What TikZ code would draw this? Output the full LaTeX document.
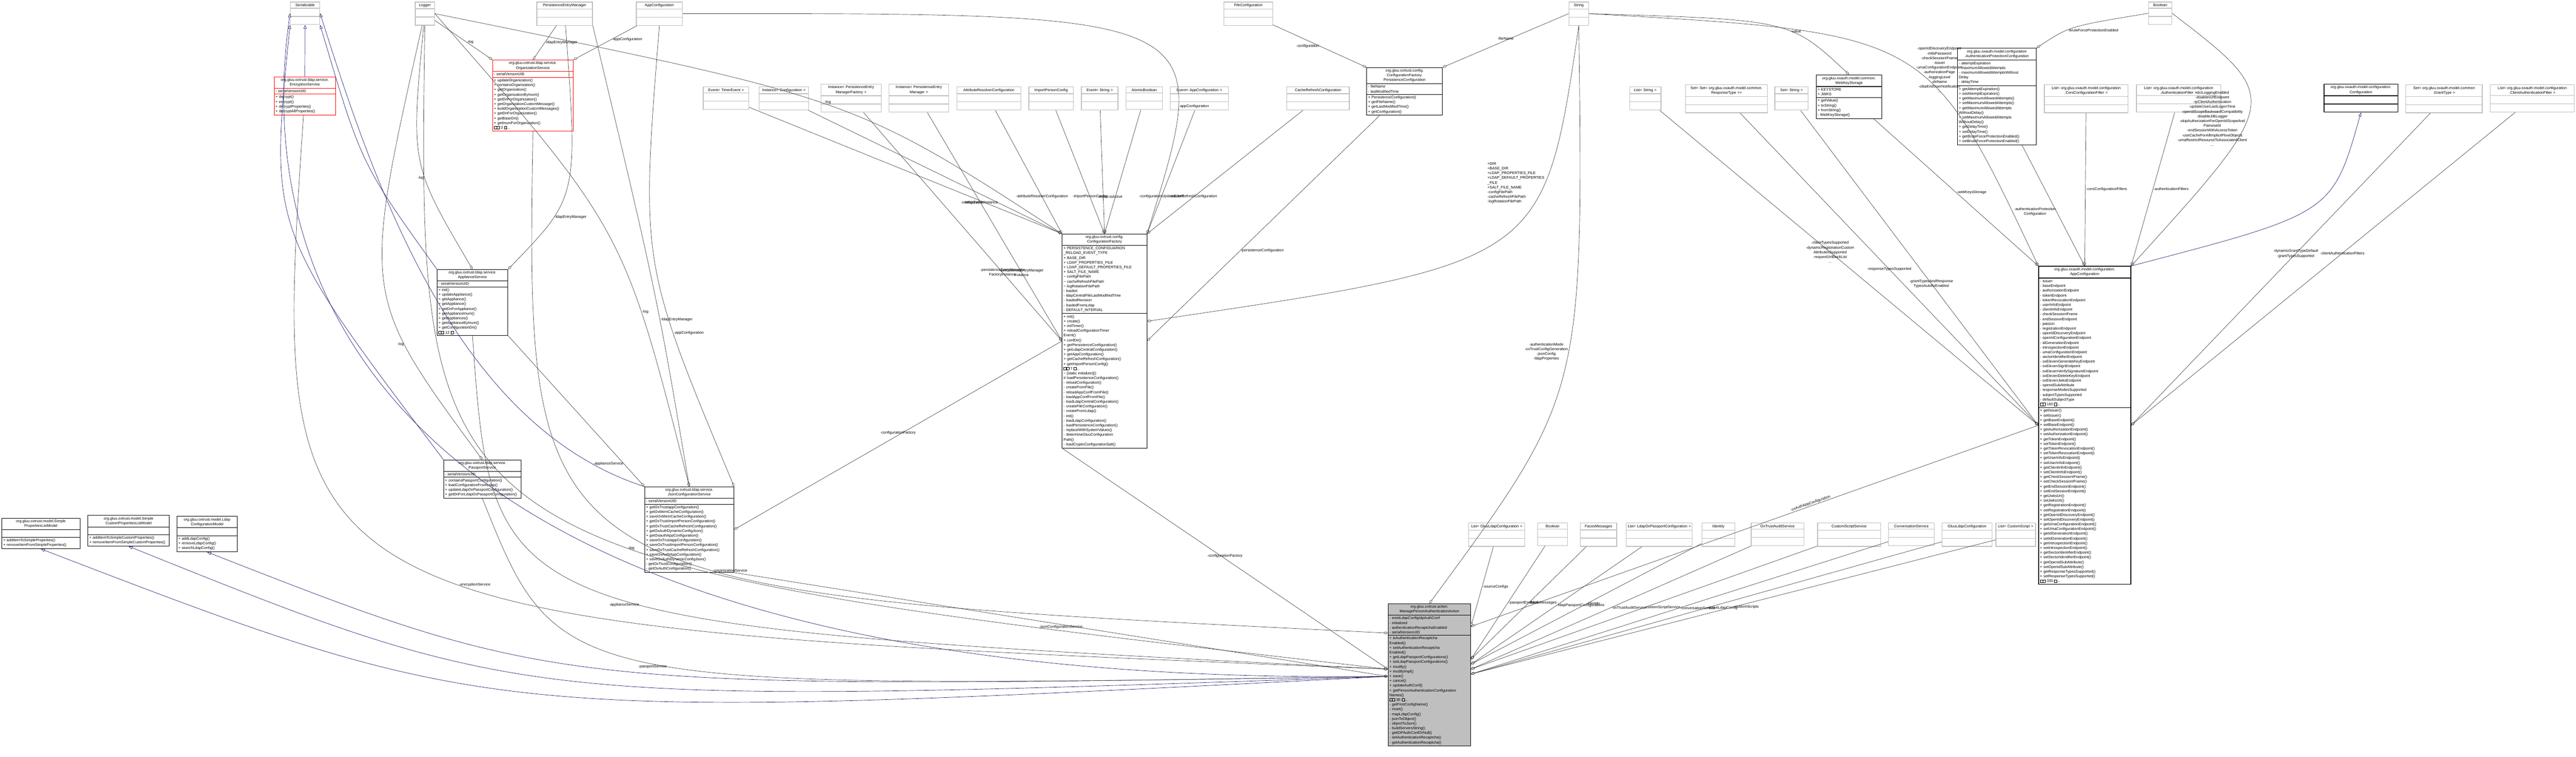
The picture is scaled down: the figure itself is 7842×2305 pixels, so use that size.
\documentclass[tikz,border=0pt]{standalone}
\usepackage{fontspec}
\setmainfont{Liberation Sans}
\usepackage{tikz}
\usetikzlibrary{shapes.multipart, arrows.meta, calc}
\definecolor{edgeGray}{HTML}{404040}
\definecolor{inhBlue}{HTML}{191970}
\definecolor{extGray}{HTML}{BFBFBF}
\definecolor{mainFill}{HTML}{BFBFBF}
\newcommand{\hb}{{\fboxsep=0pt\fboxrule=0.2pt\framebox[2.4pt]{\rule{0pt}{2.2pt}}}}
\tikzset{font=\fontsize{3.25}{4.1}\selectfont}
\tikzstyle{classbox} = [rectangle split, rectangle split parts=3, draw=black,%
line width=0.35pt, inner sep=1.2pt, align=left, anchor=north west]
\tikzstyle{redbox} = [classbox, draw=red]
\tikzstyle{mainbox} = [classbox, fill=mainFill]
\tikzstyle{extbox} = [rectangle split, rectangle split parts=3, draw=extGray,%
line width=0.6pt, inner sep=1.2pt, align=center, anchor=north west]
\tikzstyle{arrow} = [draw=edgeGray, line width=0.3pt, -{Diamond[open,length=0.14cm,width=0.08cm]}]
\tikzstyle{inherit} = [draw=inhBlue, line width=0.3pt, -{Triangle[open,length=0.12cm,width=0.09cm]}]
\tikzstyle{lbl} = [inner sep=0.5pt, align=center]
\newcommand{\extnode}[4]{\node[extbox, text width=#3] (#1) at (#2) {#4\nodepart{two}\strut\nodepart{three}\strut};}

\begin{document}
\begin{tikzpicture}[x=0.01cm, y=-0.01cm]
    \useasboundingbox (0,0) rectangle (7842,2305);

    % top row
    \extnode{ser}{883,5}{0.81cm}{Serializable}
    \extnode{logger}{1263,5}{0.50cm}{Logger}
    \extnode{pem}{1633,5}{1.61cm}{PersistenceEntryManager}
    \extnode{appconf}{1936,5}{1.32cm}{AppConfiguration}
    \extnode{fileconf}{3725,5}{1.40cm}{FileConfiguration}
    \extnode{string}{4775,5}{0.52cm}{String}
    \extnode{boolean}{6540,5}{0.62cm}{Boolean}

    % second row
    \extnode{timer}{2140,263}{1.30cm}{Event\textless{} TimerEvent \textgreater}
    \extnode{instconf}{2310,263}{1.42cm}{Instance\textless{} Configuration \textgreater}
    \extnode{instpemf}{2498,255}{1.75cm}{Instance\textless{} PersistenceEntry\\ManagerFactory \textgreater}
    \extnode{instpem}{2705,255}{1.74cm}{Instance\textless{} PersistenceEntry\\Manager \textgreater}
    \extnode{attres}{2912,263}{1.86cm}{AttributeResolverConfiguration}
    \extnode{imppers}{3131,263}{1.27cm}{ImportPersonConfig}
    \extnode{evstr}{3291,263}{1.03cm}{Event\textless{} String \textgreater}
    \extnode{atomic}{3427,263}{1.02cm}{AtomicBoolean}
    \extnode{evapp}{3562,263}{1.68cm}{Event\textless{} AppConfiguration \textgreater}
    \extnode{cacheref}{3916,263}{1.82cm}{CacheRefreshConfiguration}
    \extnode{liststr}{4960,263}{0.87cm}{List\textless{} String \textgreater}
    \extnode{setset}{5130,257}{2.41cm}{Set\textless{} Set\textless{} org.gluu.oxauth.model.common.\\ResponseType \textgreater{}\textgreater}
    \extnode{setstr}{5402,263}{0.93cm}{Set\textless{} String \textgreater}
    \extnode{corsf}{6222,257}{2.47cm}{List\textless{} org.gluu.oxauth.model.configuration\\.CorsConfigurationFilter \textgreater}
    \extnode{authf}{6503,257}{2.48cm}{List\textless{} org.gluu.oxauth.model.configuration\\.AuthenticationFilter \textgreater}
    \extnode{setgrant}{7323,257}{2.24cm}{Set\textless{} org.gluu.oxauth.model.common\\.GrantType \textgreater}
    \extnode{listclf}{7580,257}{2.47cm}{List\textless{} org.gluu.oxauth.model.configuration\\.ClientAuthenticationFilter \textgreater}

    \node (persconf) [classbox, text width=2.22cm] at (4160,205)
      {{\centering org.gluu.oxtrust.config.\\ConfigurationFactory.\\PersistenceConfiguration\par}
      \nodepart{two} - fileName\\- lastModifiedTime
      \nodepart{three} + PersistenceConfiguration()\\+ getFileName()\\+ getLastModifiedTime()\\+ getConfiguration()};
    \node (webkey) [classbox, line width=0.6pt, text width=1.91cm] at (5528,227)
      {{\centering org.gluu.oxauth.model.common.\\WebKeyStorage\par}
      \nodepart{two} + KEYSTORE\\+ JWKS
      \nodepart{three} + getValue()\\+ toString()\\+ fromString()\\- WebKeyStorage()};
    \node (authprot) [classbox, line width=0.6pt, text width=2.31cm] at (5958,146)
      {{\centering org.gluu.oxauth.model.configuration\\.AuthenticationProtectionConfiguration\par}
      \nodepart{two} - attemptExpiration\\- maximumAllowedAttempts\\- maximumAllowedAttemptsWithout\\Delay\\- delayTime
      \nodepart{three} + getAttemptExpiration()\\+ setAttemptExpiration()\\+ getMaximumAllowedAttempts()\\+ setMaximumAllowedAttempts()\\+ getMaximumAllowedAttempts\\WithoutDelay()\\+ setMaximumAllowedAttempts\\WithoutDelay()\\+ getDelayTime()\\+ setDelayTime()\\+ getBruteForceProtectionEnabled()\\+ setBruteForceProtectionEnabled()};
    \node (confint) [classbox, line width=0.6pt, text width=2.16cm] at (7074,255)
      {{\centering org.gluu.oxauth.model.configuration.\\Configuration\par}
      \nodepart{two}\strut \nodepart{three}\strut};
    \node (appcfg) [classbox, line width=0.6pt, text width=2.72cm] at (6205,810)
      {{\centering org.gluu.oxauth.model.configuration.\\AppConfiguration\par}
      \nodepart{two} - issuer\\- baseEndpoint\\- authorizationEndpoint\\- tokenEndpoint\\- tokenRevocationEndpoint\\- userInfoEndpoint\\- clientInfoEndpoint\\- checkSessionIFrame\\- endSessionEndpoint\\- jwksUri\\- registrationEndpoint\\- openIdDiscoveryEndpoint\\- openIdConfigurationEndpoint\\- idGenerationEndpoint\\- introspectionEndpoint\\- umaConfigurationEndpoint\\- sectorIdentifierEndpoint\\- oxElevenGenerateKeyEndpoint\\- oxElevenSignEndpoint\\- oxElevenVerifySignatureEndpoint\\- oxElevenDeleteKeyEndpoint\\- oxElevenJwksEndpoint\\- openidSubAttribute\\- responseModesSupported\\- subjectTypesSupported\\- defaultSubjectType\\\hb\hb~160~\hb...
      \nodepart{three} + getIssuer()\\+ setIssuer()\\+ getBaseEndpoint()\\+ setBaseEndpoint()\\+ getAuthorizationEndpoint()\\+ setAuthorizationEndpoint()\\+ getTokenEndpoint()\\+ setTokenEndpoint()\\+ getTokenRevocationEndpoint()\\+ setTokenRevocationEndpoint()\\+ getUserInfoEndpoint()\\+ setUserInfoEndpoint()\\+ getClientInfoEndpoint()\\+ setClientInfoEndpoint()\\+ getCheckSessionIFrame()\\+ setCheckSessionIFrame()\\+ getEndSessionEndpoint()\\+ setEndSessionEndpoint()\\+ getJwksUri()\\+ setJwksUri()\\+ getRegistrationEndpoint()\\+ setRegistrationEndpoint()\\+ getOpenIdDiscoveryEndpoint()\\+ setOpenIdDiscoveryEndpoint()\\+ getUmaConfigurationEndpoint()\\+ setUmaConfigurationEndpoint()\\+ getIdGenerationEndpoint()\\+ setIdGenerationEndpoint()\\+ getIntrospectionEndpoint()\\+ setIntrospectionEndpoint()\\+ getSectorIdentifierEndpoint()\\+ setSectorIdentifierEndpoint()\\+ getOpenidSubAttribute()\\+ setOpenidSubAttribute()\\+ getResponseTypesSupported()\\+ setResponseTypesSupported()\\\hb\hb~330~\hb...};

    % services
    \node (enc) [redbox, text width=1.78cm] at (834,233)
      {{\centering org.gluu.oxtrust.ldap.service.\\EncryptionService\par}
      \nodepart{two} - serialVersionUID
      \nodepart{three} + decrypt()\\+ encrypt()\\+ decryptProperties()\\+ decryptAllProperties()};
    \node (org) [redbox, text width=2.37cm] at (1499,182)
      {{\centering org.gluu.oxtrust.ldap.service.\\OrganizationService\par}
      \nodepart{two} - serialVersionUID
      \nodepart{three} + updateOrganization()\\+ containsOrganization()\\+ getOrganization()\\+ getOrganizationByInum()\\+ getDnForOrganization()\\+ getOrganizationCustomMessage()\\+ buildOrganizationCustomMessages()\\+ getDnForOrganization()\\+ getBaseDn()\\+ getInumForOrganization()\\\hb\hb~3~\hb...};
    \node (appl) [classbox, text width=2.07cm] at (1330,820)
      {{\centering org.gluu.oxtrust.ldap.service.\\ApplianceService\par}
      \nodepart{two} - serialVersionUID
      \nodepart{three} + init()\\+ updateAppliance()\\+ getAppliance()\\+ getAppliance()\\+ getDnForAppliance()\\+ getApplianceInum()\\+ getAppliances()\\+ getApplianceByInum()\\+ getConfigurationDn()\\\hb\hb~12~\hb...};
    \node (pass) [classbox, text width=2.27cm] at (1350,1400)
      {{\centering org.gluu.oxtrust.ldap.service.\\PassportService\par}
      \nodepart{two} - serialVersionUID
      \nodepart{three} + containsPassportConfiguration()\\+ loadConfigurationFromLdap()\\+ updateLdapOxPassportConfiguration()\\+ getDnForLdapOxPassportConfiguration()};
    \node (json) [classbox, text width=2.63cm] at (1962,1482)
      {{\centering org.gluu.oxtrust.ldap.service.\\JsonConfigurationService\par}
      \nodepart{two} - serialVersionUID
      \nodepart{three} + getOxTrustappConfiguration()\\+ getOxMemCacheConfiguration()\\+ saveOxMemCacheConfiguration()\\+ getOxTrustImportPersonConfiguration()\\+ getOxTrustCacheRefreshConfiguration()\\+ getOxAuthDynamicConfigJson()\\+ getOxauthAppConfiguration()\\+ saveOxTrustappConfiguration()\\+ saveOxTrustImportPersonConfiguration()\\+ saveOxTrustCacheRefreshConfiguration()\\+ saveOxAuthAppConfiguration()\\+ saveOxAuthDynamicConfigJson()\\- getOxTrustConfiguration()\\- getOxAuthConfiguration()};
    \node (cf) [classbox, text width=2.49cm] at (3233,712)
      {{\centering org.gluu.oxtrust.config.\\ConfigurationFactory\par}
      \nodepart{two} + PERSISTENCE\_CONFIGUARION\\\_RELOAD\_EVENT\_TYPE\\+ BASE\_DIR\\+ LDAP\_PROPERTIES\_FILE\\+ LDAP\_DEFAULT\_PROPERTIES\_FILE\\+ SALT\_FILE\_NAME\\\textasciitilde{} configFilePath\\\textasciitilde{} cacheRefreshFilePath\\\textasciitilde{} logRotationFilePath\\- loaded\\- ldapCentralFileLastModifiedTime\\- loadedRevision\\- loadedFromLdap\\- DEFAULT\_INTERVAL
      \nodepart{three} + init()\\+ create()\\+ initTimer()\\+ reloadConfigurationTimer\\Event()\\+ confDir()\\+ getPersistenceConfiguration()\\+ getLdapCentralConfiguration()\\+ getAppConfiguration()\\+ getCacheRefreshConfiguration()\\+ getImportPersonConfig()\\\hb\hb~7~\hb...\\\textasciitilde{} [static initializer]()\\\# loadPersistenceConfiguration()\\- reloadConfiguration()\\- createFromFile()\\- reloadAppConfFromFile()\\- loadAppConfFromFile()\\- loadLdapCentralConfiguration()\\- createFileConfiguration()\\- createFromLdap()\\- init()\\- loadLdapConfiguration()\\- loadPersistenceConfiguration()\\- replaceWithSystemValues()\\- determineGluuConfiguration\\Path()\\- loadCryptoConfigurationSalt()};

    % interfaces on the left
    \node (splm) [classbox, text width=2.29cm] at (5,1577)
      {{\centering org.gluu.oxtrust.model.Simple\\PropertiesListModel\par}
      \nodepart{two}\strut
      \nodepart{three} + addItemToSimpleProperties()\\+ removeItemFromSimpleProperties()};
    \node (scplm) [classbox, text width=2.39cm] at (267,1569)
      {{\centering org.gluu.oxtrust.model.Simple\\CustomPropertiesListModel\par}
      \nodepart{two}\strut
      \nodepart{three} + addItemToSimpleCustomProperties()\\+ removeItemFromSimpleCustomProperties()};
    \node (lcm) [classbox, text width=1.75cm] at (538,1572)
      {{\centering org.gluu.oxtrust.model.Ldap\\ConfigurationModel\par}
      \nodepart{two}\strut
      \nodepart{three} + addLdapConfig()\\+ removeLdapConfig()\\+ searchLdapConfig()};

    % bottom row
    \extnode{bsrc}{4470,1592}{1.62cm}{List\textless{} GluuLdapConfiguration \textgreater}
    \extnode{bbool}{4680,1592}{0.82cm}{Boolean}
    \extnode{bfaces}{4810,1592}{1.02cm}{FacesMessages}
    \extnode{bpassl}{4950,1592}{1.92cm}{List\textless{} LdapOxPassportConfiguration \textgreater}
    \extnode{bident}{5180,1592}{0.92cm}{Identity}
    \extnode{baudit}{5330,1592}{1.52cm}{OxTrustAuditService}
    \extnode{bcss}{5532,1592}{1.84cm}{CustomScriptService}
    \extnode{bconv}{5748,1592}{1.31cm}{ConversationService}
    \extnode{bldap}{5911,1592}{1.44cm}{GluuLdapConfiguration}
    \extnode{bscr}{6075,1592}{1.12cm}{List\textless{} CustomScript \textgreater}

    % main class
    \node (M) [mainbox, text width=2.43cm] at (4225,1838)
      {{\centering org.gluu.oxtrust.action.\\ManagePersonAuthenticationAction\par}
      \nodepart{two} - existLdapConfigIdpAuthConf\\- initialized\\- authenticationRecaptchaEnabled\\- serialVersionUID
      \nodepart{three} + isAuthenticationRecaptcha\\Enabled()\\+ setAuthenticationRecaptcha\\Enabled()\\+ getLdapPassportConfigurations()\\+ setLdapPassportConfigurations()\\+ modify()\\+ modifyImpl()\\+ save()\\+ cancel()\\+ updateAuthConf()\\+ getPersonAuthenticationConfiguration\\Names()\\\hb\hb~35~\hb...\\- getFirstConfigName()\\- reset()\\- mapLdapConfig()\\- jsonToObject()\\- objectToJson()\\- buildServersString()\\- getIDPAuthConfOrNull()\\- setAuthenticationRecaptcha()\\- getAuthenticationRecaptcha()};

    \coordinate (mL1) at ($(M.north west)+(0,90)$);
    \coordinate (mL2) at ($(M.north west)+(0,200)$);
    \coordinate (mL3) at ($(M.north west)+(0,222)$);
    \coordinate (mR1) at ($(M.north east)+(0,70)$);
    \coordinate (mR2) at ($(M.north east)+(0,170)$);
    \coordinate (mR3) at ($(M.north east)+(0,185)$);
    \coordinate (mR4) at ($(M.north east)+(0,200)$);
    \coordinate (mR5) at ($(M.north east)+(0,215)$);

    % inheritance
    \draw [inherit] (enc) -- (ser);
    \draw [inherit] (appl.north west) .. controls (1100,500) .. (ser.south east);
    \draw [inherit] (pass.north west) .. controls (820,700) .. (ser.south west);
    \draw [inherit] (mL3) .. controls (1200,2100) and (760,900) .. (ser.west);
    \draw [inherit] (json.north west) .. controls (1400,1300) and (1150,600) .. (ser.east);
    \draw [inherit] (mL3) .. controls (1500,2200) .. (splm.south);
    \draw [inherit] (mL3) .. controls (1600,2150) .. (scplm.south);
    \draw [inherit] (mL3) .. controls (1700,2100) .. (lcm.south);
    \draw [inherit] (appcfg.north east) .. controls (7100,650) .. (confint.south);

    % logger and persistence
    \draw [arrow] (logger) -- node[lbl, pos=0.55, right] {-log} (org.north west);
    \draw [arrow] (logger) .. controls (1250,500) .. node[lbl, pos=0.6, left] {-log} (appl.north);
    \draw [arrow] (logger) .. controls (1100,900) .. node[lbl, pos=0.7, left] {-log} (pass.north);
    \draw [arrow] (logger.east) .. controls (1900,700) .. node[lbl, pos=0.7, right] {-log} (json.north);
    \draw [arrow] (logger.east) .. controls (2600,300) .. node[lbl, pos=0.5, above] {-log} (cf.north west);
    \draw [arrow] (logger.south) .. controls (1270,1700) .. node[lbl, pos=0.6, right] {-log} (mL2);
    \draw [arrow] (pem) -- node[lbl, pos=0.5, right] {-ldapEntryManager} (org.north);
    \draw [arrow] (pem) .. controls (1760,600) .. node[lbl, pos=0.7, right] {-ldapEntryManager} (appl.north east);
    \draw [arrow] (pem.south east) .. controls (2000,900) .. node[lbl, pos=0.6, right] {-ldapEntryManager} (json.north);
    \draw [arrow] (appconf) -- node[lbl, pos=0.4, right] {-appConfiguration} (org.north east);
    \draw [arrow] (appconf.south) .. controls (1950,800) .. node[lbl, pos=0.7, right] {-appConfiguration} (json.north east);
    \draw [arrow] (appconf.east) .. controls (3700,40) .. node[lbl, pos=0.75, right] {-appConfiguration} (cf.north east);

    % services into the action
    \draw [arrow] (enc) .. controls (820,1900) .. node[lbl, pos=0.55, right] {-encryptionService} (mL2);
    \draw [arrow] (org.south) .. controls (1600,1800) .. node[lbl, pos=0.6, right] {-organizationService} (mL1);
    \draw [arrow] (appl.south east) -- node[lbl, pos=0.85, left] {-applianceService} (json.north west);
    \draw [arrow] (appl.south) .. controls (1500,1900) .. node[lbl, pos=0.55, left] {-applianceService} (mL2);
    \draw [arrow] (pass.south) .. controls (1700,2100) .. node[lbl, pos=0.5, below] {-passportService} (mL3);
    \draw [arrow] (json.south east) -- node[lbl, pos=0.5, below] {-jsonConfigurationService} (mL3);
    \draw [arrow] (cf.west) -- node[lbl, pos=0.5, above] {-configurationFactory} (json.east);
    \draw [arrow] (cf.south west) -- node[lbl, pos=0.5, above] {-configurationFactory} (mL2);

    % configuration factory members
    \draw [arrow] (timer) -- node[lbl, pos=0.75, left] {-timerEvent} (cf.north west);
    \draw [arrow] (instconf) -- node[lbl, pos=0.75, left] {-configurationInstance} (cf.north west);
    \draw [arrow] (instpemf) -- node[lbl, pos=0.7] {-persistenceEntryManager\\FactoryInstance} (cf.west);
    \draw [arrow] (instpem) -- node[lbl, pos=0.7] {-persistenceEntryManager\\Instance} (cf.west);
    \draw [arrow] (attres) -- node[lbl, pos=0.7] {-attributeResolverConfiguration} (cf.north west);
    \draw [arrow] (imppers) -- node[lbl, pos=0.7] {-importPersonConfig} (cf.north);
    \draw [arrow] (evstr) -- node[lbl, pos=0.7] {-event} (cf.north);
    \draw [arrow] (atomic) -- node[lbl, pos=0.7] {-isActive} (cf.north);
    \draw [arrow] (evapp) -- node[lbl, pos=0.7] {-configurationUpdateEvent} (cf.north east);
    \draw [arrow] (cacheref) -- node[lbl, pos=0.7] {-cacheRefreshConfiguration} (cf.north east);
    \draw [arrow] (persconf) -- node[lbl, pos=0.6, right] {-persistenceConfiguration} (cf.east);
    \draw [arrow] (fileconf) -- node[lbl, pos=0.5, left] {-configuration} (persconf.north west);
    \draw [arrow] (string.west) -- node[lbl, pos=0.5, above] {-fileName} (persconf.north east);
    \draw [arrow] (string.south) .. controls (4700,800) .. node[lbl, pos=0.3, left, align=left]
      {+DIR\\+BASE\_DIR\\+LDAP\_PROPERTIES\_FILE\\+LDAP\_DEFAULT\_PROPERTIES\\\_FILE\\+SALT\_FILE\_NAME\\-configFilePath\\-cacheRefreshFilePath\\-logRotationFilePath}
      ($(cf.east)+(0,-60)$);
    \draw [arrow] (string.south) .. controls (4820,1200) .. node[lbl, pos=0.45, left]
      {-authenticationMode\\-oxTrustConfigGeneration\\-jsonConfig\\-ldapProperties} (M.north);

    % oxauth app configuration
    \draw [arrow] (string.east) .. controls (5450,60) .. node[lbl, pos=0.6, right] {-value} (webkey.north);
    \draw [arrow] (string.east) .. controls (5870,100) .. node[lbl, pos=0.55, right]
      {-openIdDiscoveryEndpoint\\-mtlsPassword\\-checkSessionIFrame\\-issuer\\-umaConfigurationEndpoint\\-authorizationPage\\-loggingLevel\\-dnName\\-cibaEndUserNotification\\...}
      (appcfg.north west);
    \draw [arrow] (liststr) -- node[lbl, pos=0.45, align=center]
      {-claimTypesSupported\\-dynamicRegistrationCustom\\AttributesSupported\\-requestUriBlockList\\...} (appcfg.west);
    \draw [arrow] (setset) -- node[lbl, pos=0.5] {-responseTypesSupported} (appcfg.west);
    \draw [arrow] (setstr) -- node[lbl, pos=0.55] {-grantTypesAndResponse\\TypesAutofixEnabled} (appcfg.west);
    \draw [arrow] (webkey) -- node[lbl, pos=0.5, right] {-webKeysStorage} (appcfg.north west);
    \draw [arrow] (authprot) -- node[lbl, pos=0.55, left] {-authenticationProtection\\Configuration} (appcfg.north);
    \draw [arrow] (boolean.west) .. controls (6300,80) .. node[lbl, pos=0.6, right] {-bruteForceProtectionEnabled} (authprot.north east);
    \draw [arrow] (boolean.east) .. controls (6950,300) .. node[lbl, pos=0.55, left]
      {-dcrLoggingEnabled\\-disableU2fEndpoint\\-rpClientAuthentication\\-updateUserLastLogonTime\\-openidScopeBackwardCompatibility\\-disableJdkLogger\\-skipAuthorizationForOpenIdScopeAnd\\PairwiseId\\-endSessionWithAccessToken\\-useCacheForAllImplicitFlowObjects\\-umaRestrictResourceToAssociatedClient\\...}
      (appcfg.north east);
    \draw [arrow] (corsf) -- node[lbl, pos=0.5, right] {-corsConfigurationFilters} (appcfg.north);
    \draw [arrow] (authf) -- node[lbl, pos=0.5, right] {-authenticationFilters} (appcfg.north east);
    \draw [arrow] (setgrant) -- node[lbl, pos=0.45] {-dynamicGrantTypeDefault\\-grantTypesSupported} (appcfg.east);
    \draw [arrow] (listclf) -- node[lbl, pos=0.45] {-clientAuthenticationFilters} (appcfg.east);
    \draw [arrow] (appcfg.west) -- node[lbl, pos=0.4, above, sloped] {-oxAuthAppConfiguration} (mR1);

    % bottom row into the action
    \draw [arrow] (bsrc) -- node[lbl, pos=0.5, right] {-sourceConfigs} (mR1);
    \draw [arrow] (bbool) -- node[lbl, pos=0.5, right] {-passportEnabled} (mR2);
    \draw [arrow] (bfaces) -- node[lbl, pos=0.5, right] {-facesMessages} (mR2);
    \draw [arrow] (bpassl) -- node[lbl, pos=0.5, right] {-ldapPassportConfigurations} (mR3);
    \draw [arrow] (bident) -- node[lbl, pos=0.5, right] {-identity} (mR3);
    \draw [arrow] (baudit) -- node[lbl, pos=0.5, right] {-oxTrustAuditService} (mR4);
    \draw [arrow] (bcss) -- node[lbl, pos=0.5, right] {-customScriptService} (mR4);
    \draw [arrow] (bconv) -- node[lbl, pos=0.5, right] {-conversationService} (mR5);
    \draw [arrow] (bldap) -- node[lbl, pos=0.5, right] {-activeLdapConfig} (mR5);
    \draw [arrow] (bscr) -- node[lbl, pos=0.5, right] {-customScripts} (mR5);
\end{tikzpicture}
\end{document}
